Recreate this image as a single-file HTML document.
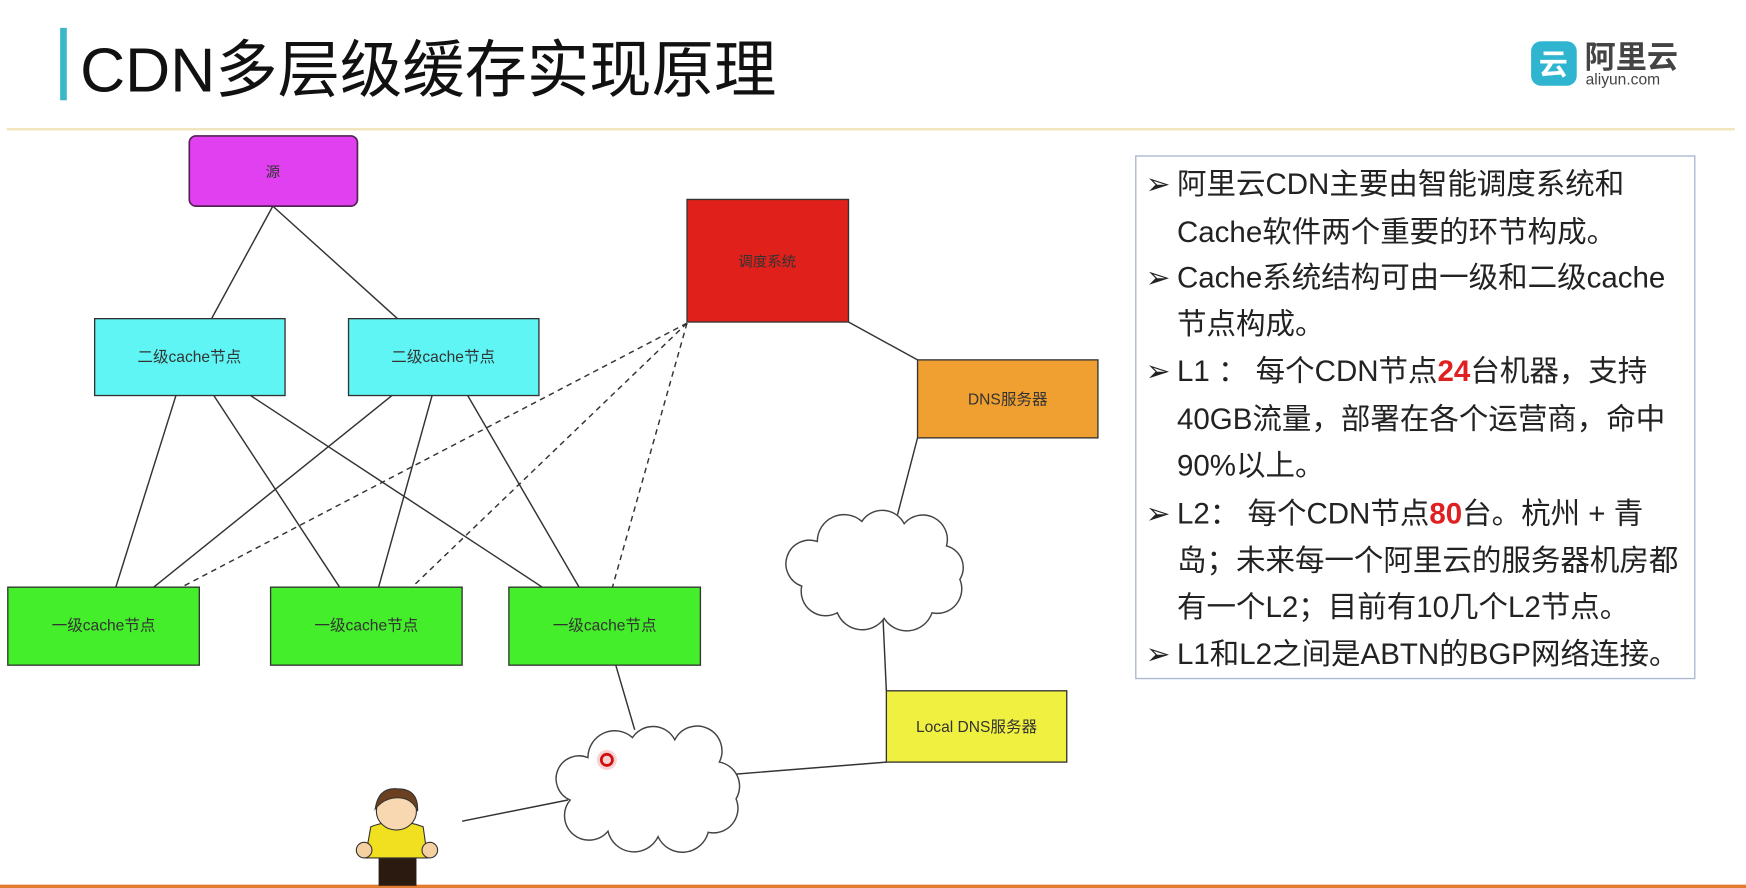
<!DOCTYPE html>
<html><head><meta charset="utf-8"><style>
html,body{margin:0;padding:0;background:#fff;}
svg{display:block;}
text{font-family:"Liberation Sans","Noto Sans CJK SC",sans-serif;}
</style></head><body>
<svg width="1746" height="888" viewBox="0 0 1568 797" preserveAspectRatio="none" xmlns="http://www.w3.org/2000/svg">
<rect x="0" y="0" width="1568" height="797" fill="#fff"/>
<!-- header -->
<rect x="54" y="25" width="6" height="65" fill="#3ab8c8"/>
<text x="72" y="82" font-size="56" fill="#111">CDN多层级缓存实现原理</text>
<rect x="1375" y="37" width="41" height="40" rx="9" fill="#2fb5d0"/>
<text x="1395" y="67" font-size="26" fill="#fff" text-anchor="middle" font-weight="bold">云</text>
<text x="1423" y="61" font-size="28" fill="#444" font-weight="bold">阿里云</text>
<text x="1424" y="76" font-size="14" fill="#444">aliyun.com</text>
<line x1="6" y1="116" x2="1558" y2="116" stroke="#f1e3b8" stroke-width="2"/>
<rect x="0" y="794" width="1568" height="3" fill="#e07b30"/>

<!-- connectors -->
<g stroke="#333" stroke-width="1.3" fill="none">
<line x1="245" y1="185" x2="190" y2="286"/>
<line x1="245" y1="185" x2="357" y2="286"/>
<line x1="158" y1="355" x2="104" y2="527"/>
<line x1="192" y1="355" x2="305" y2="527"/>
<line x1="225" y1="355" x2="487" y2="527"/>
<line x1="352" y1="355" x2="138" y2="527"/>
<line x1="388" y1="355" x2="340" y2="527"/>
<line x1="420" y1="355" x2="520" y2="527"/>
<line x1="762" y1="289" x2="824" y2="323"/>
<line x1="824" y1="393" x2="806" y2="462"/>
<line x1="793" y1="555" x2="796" y2="620"/>
<line x1="553" y1="597" x2="570" y2="655"/>
<line x1="658" y1="695" x2="796" y2="684"/>
<line x1="415" y1="737" x2="510" y2="718"/>
</g>
<g stroke="#333" stroke-width="1.3" stroke-dasharray="5,4" fill="none">
<line x1="617" y1="290" x2="163" y2="527"/>
<line x1="617" y1="290" x2="370" y2="527"/>
<line x1="617" y1="290" x2="550" y2="527"/>
</g>

<!-- boxes -->
<rect x="170" y="122" width="151" height="63" rx="6" fill="#e040f0" stroke="#552255" stroke-width="1.5"/>
<text x="245" y="159" font-size="13" fill="#333" text-anchor="middle">源</text>
<rect x="617" y="179" width="145" height="110" fill="#e0201a" stroke="#333" stroke-width="1.2"/>
<text x="689" y="239" font-size="13" fill="#333" text-anchor="middle">调度系统</text>
<rect x="85" y="286" width="171" height="69" fill="#5ff5f5" stroke="#333" stroke-width="1.2"/>
<text x="170" y="325" font-size="14" fill="#333" text-anchor="middle">二级cache节点</text>
<rect x="313" y="286" width="171" height="69" fill="#5ff5f5" stroke="#333" stroke-width="1.2"/>
<text x="398" y="325" font-size="14" fill="#333" text-anchor="middle">二级cache节点</text>
<rect x="824" y="323" width="162" height="70" fill="#f0a030" stroke="#333" stroke-width="1.2"/>
<text x="905" y="363" font-size="14" fill="#333" text-anchor="middle">DNS服务器</text>
<rect x="7" y="527" width="172" height="70" fill="#44ee2a" stroke="#333" stroke-width="1.2"/>
<text x="93" y="566" font-size="14" fill="#333" text-anchor="middle">一级cache节点</text>
<rect x="243" y="527" width="172" height="70" fill="#44ee2a" stroke="#333" stroke-width="1.2"/>
<text x="329" y="566" font-size="14" fill="#333" text-anchor="middle">一级cache节点</text>
<rect x="457" y="527" width="172" height="70" fill="#44ee2a" stroke="#333" stroke-width="1.2"/>
<text x="543" y="566" font-size="14" fill="#333" text-anchor="middle">一级cache节点</text>
<rect x="796" y="620" width="162" height="64" fill="#f0f040" stroke="#333" stroke-width="1.2"/>
<text x="877" y="657" font-size="14" fill="#333" text-anchor="middle">Local DNS服务器</text>

<!-- clouds -->
<g fill="#fff" stroke="#444" stroke-width="1.3">
<path transform="translate(712,458)" d="M22,28 A24,24 0 0 1 62,10 A22,22 0 0 1 100,12 A22,22 0 0 1 138,32 A20,20 0 0 1 150,62 A22,22 0 0 1 125,92 A24,24 0 0 1 82,97 A24,24 0 0 1 40,92 A22,22 0 0 1 8,68 A20,20 0 0 1 22,28 Z"/>
<path transform="translate(506,652)" d="M22,28 A24,24 0 0 1 62,10 A22,22 0 0 1 100,12 A22,22 0 0 1 140,32 A22,22 0 0 1 155,65 A22,22 0 0 1 130,95 A24,24 0 0 1 85,99 A24,24 0 0 1 40,94 A22,22 0 0 1 6,66 A20,20 0 0 1 22,28 Z"/>
</g>
<circle cx="545" cy="682" r="9" fill="#f5c0c0" opacity="0.7"/>
<circle cx="545" cy="682" r="5" fill="none" stroke="#d01010" stroke-width="2.5"/>

<!-- person -->
<g>
<rect x="340" y="765" width="34" height="30" fill="#2a1a10"/>
<path d="M333,742 Q356,733 380,742 L384,770 L328,770 Z" fill="#f0e020" stroke="#333" stroke-width="1"/>
<circle cx="327" cy="763" r="7" fill="#f5d0a0" stroke="#333"/>
<circle cx="386" cy="763" r="7" fill="#f5d0a0" stroke="#333"/>
<ellipse cx="356" cy="728" rx="18" ry="17" fill="#f8d8b0" stroke="#333"/>
<path d="M337,726 Q340,706 357,708 Q376,708 375,728 Q370,716 357,716 Q345,716 337,726 Z" fill="#6a4020" stroke="#333"/>
</g>

<!-- text box -->
<rect x="1020" y="140" width="502" height="469" fill="#fff" stroke="#a8b8d0" stroke-width="1.2"/>
<g font-size="26.5" fill="#222">
<text x="1029" y="174">➢</text><text x="1057" y="174">阿里云CDN主要由智能调度系统和</text>
<text x="1057" y="217">Cache软件两个重要的环节构成。</text>
<text x="1029" y="258">➢</text><text x="1057" y="258">Cache系统结构可由一级和二级cache</text>
<text x="1057" y="300">节点构成。</text>
<text x="1029" y="342">➢</text><text x="1057" y="342">L1 ： 每个CDN节点<tspan fill="#e02020" font-weight="bold">24</tspan>台机器，支持</text>
<text x="1057" y="385">40GB流量，部署在各个运营商，命中</text>
<text x="1057" y="427">90%以上。</text>
<text x="1029" y="470">➢</text><text x="1057" y="470">L2： 每个CDN节点<tspan fill="#e02020" font-weight="bold">80</tspan>台。杭州 + 青</text>
<text x="1057" y="512">岛；未来每一个阿里云的服务器机房都</text>
<text x="1057" y="554">有一个L2；目前有10几个L2节点。</text>
<text x="1029" y="596">➢</text><text x="1057" y="596">L1和L2之间是ABTN的BGP网络连接。</text>
</g>
</svg>
</body></html>
